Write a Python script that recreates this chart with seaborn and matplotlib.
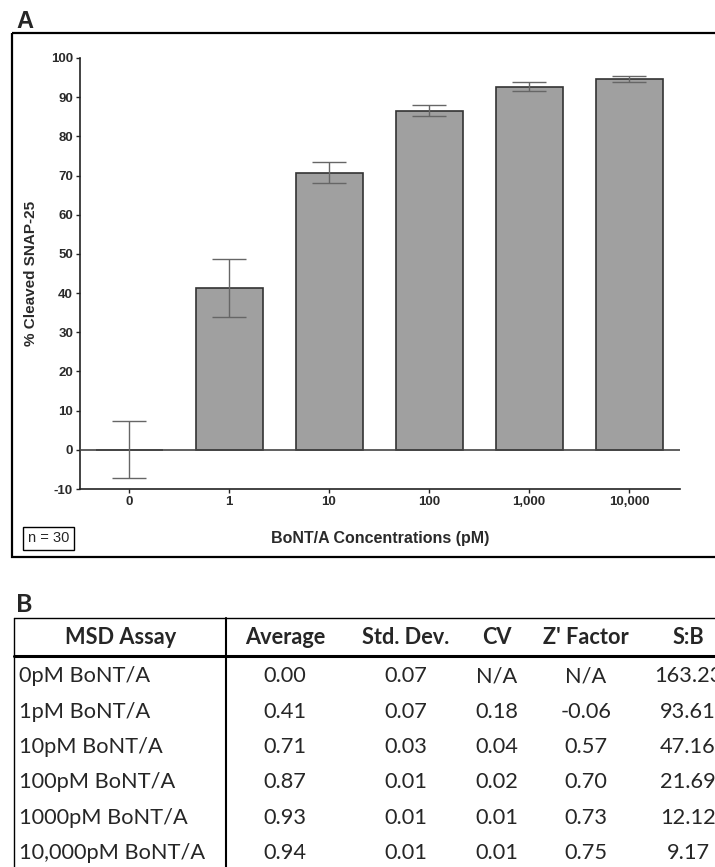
import numpy as np
import pandas as pd
import matplotlib
matplotlib.use("Agg")
import matplotlib.pyplot as plt
import seaborn as sns
from matplotlib.patches import Rectangle
from matplotlib.lines import Line2D

# --- data: panel A ---
conc_labels = ["0", "1", "10", "100", "1,000", "10,000"]
pct_cleaved = [0.0, 41.3, 70.7, 86.6, 92.7, 94.6]
pct_err = [7.3, 7.3, 2.7, 1.4, 1.1, 0.8]

# --- data: panel B (table) ---
col_headers = ["MSD Assay", "Average", "Std. Dev.", "CV", "Z' Factor", "S:B"]
row_names = ["0pM BoNT/A", "1pM BoNT/A", "10pM BoNT/A", "100pM BoNT/A",
             "1000pM BoNT/A", "10,000pM BoNT/A"]
avg_vals = ["0.00", "0.41", "0.71", "0.87", "0.93", "0.94"]
sd_vals = ["0.07", "0.07", "0.03", "0.01", "0.01", "0.01"]
cv_vals = ["N/A", "0.18", "0.04", "0.02", "0.01", "0.01"]
z_vals = ["N/A", "-0.06", "0.57", "0.70", "0.73", "0.75"]
sb_vals = ["163.23", "93.61", "47.16", "21.69", "12.12", "9.17"]

sns.set_style("ticks")
plt.rcParams['font.family'] = ['Liberation Sans', 'DejaVu Sans']
plt.rcParams['axes.unicode_minus'] = False

W, H = 715, 867
fig = plt.figure(figsize=(W / 100, H / 100), dpi=100)

# overlay in pixel coords for frame, labels and table
ov = fig.add_axes([0, 0, 1, 1], zorder=0)
ov.set_xlim(0, W)
ov.set_ylim(H, 0)
ov.axis("off")

# bar chart axes
x0, x1, y0, y1 = 80, 680, 489, 58
ax = fig.add_axes([x0 / W, 1 - y0 / H, (x1 - x0) / W, (y0 - y1) / H], zorder=2)
ax.patch.set_alpha(0)

df = pd.DataFrame({"conc": conc_labels, "pct": pct_cleaved})
sns.barplot(data=df, x="conc", y="pct", order=conc_labels, color="#a0a0a0",
            saturation=1, edgecolor="#333333", linewidth=1.2, width=0.67, ax=ax)
ax.errorbar(np.arange(len(conc_labels)), pct_cleaved, yerr=pct_err, fmt="none",
            ecolor="#666666", elinewidth=1, capsize=12, capthick=1, zorder=5)
ax.axhline(0, color="#444444", lw=1.2, zorder=4)

ax.set_ylim(-10, 100)
ax.set_xlim(-0.49, 5.51)
ax.set_yticks(np.arange(-10, 101, 10))
sns.despine(ax=ax)
for s in ["left", "bottom"]:
    ax.spines[s].set_color("#222222")
    ax.spines[s].set_linewidth(1.2)
ax.tick_params(axis="both", length=3, width=1, color="#222222", labelsize=9.5,
               labelcolor="#2a2a2a", pad=2)
for t in ax.get_xticklabels() + ax.get_yticklabels():
    t.set_fontweight("bold")
ax.set_ylabel("% Cleaved SNAP-25", fontsize=11, fontweight="bold", color="#2a2a2a")
ax.set_xlabel("BoNT/A Concentrations (pM)", fontsize=11.5, fontweight="bold", color="#2a2a2a")
ax.yaxis.set_label_coords((31 - x0) / (x1 - x0), 0.5)
ax.xaxis.set_label_coords(0.5, -(538 - y0) / (y0 - y1))
ax.xaxis.label.set_va("center")
ax.yaxis.label.set_va("center")

# panel A frame and labels
ov.add_patch(Rectangle((12, 33), 720, 524, fill=False, ec="black", lw=1.6))
ov.text(16, 28, "A", fontsize=17, fontweight="bold", va="baseline", ha="left")
ov.text(28, 538.5, "n = 30", fontsize=10.5, va="center", ha="left",
        bbox=dict(boxstyle="square,pad=0.32", fc="white", ec="black", lw=1))

# panel B table
tfont = ['Lato', 'DejaVu Sans']
ov.text(16, 612, "B", fontsize=18, fontweight="bold", va="baseline", ha="left", family=tfont)
top, hdr_bot = 617.5, 655.5
ov.add_line(Line2D([14, W], [top, top], color="black", lw=1))
ov.add_line(Line2D([14, W], [hdr_bot, hdr_bot], color="black", lw=2.2))
ov.add_line(Line2D([14, 14], [top, H], color="black", lw=1))
ov.add_line(Line2D([226, 226], [top, H], color="black", lw=1.5))

col_x = [121, 285, 406, 497, 586, 688]
fs = 15.7
for cx, h in zip(col_x, col_headers):
    ov.text(cx, 637, h, fontsize=fs, fontweight="bold", ha="center", va="center", family=tfont)

row_y = 676.5 + 35.3 * np.arange(len(row_names))
cols = [avg_vals, sd_vals, cv_vals, z_vals, sb_vals]
for i, ry in enumerate(row_y):
    ov.text(19, ry, row_names[i], fontsize=fs, ha="left", va="center", family=tfont)
    for cx, vals in zip(col_x[1:], cols):
        ov.text(cx, ry, vals[i], fontsize=fs, ha="center", va="center", family=tfont)

fig.savefig("out.png", dpi=100)
